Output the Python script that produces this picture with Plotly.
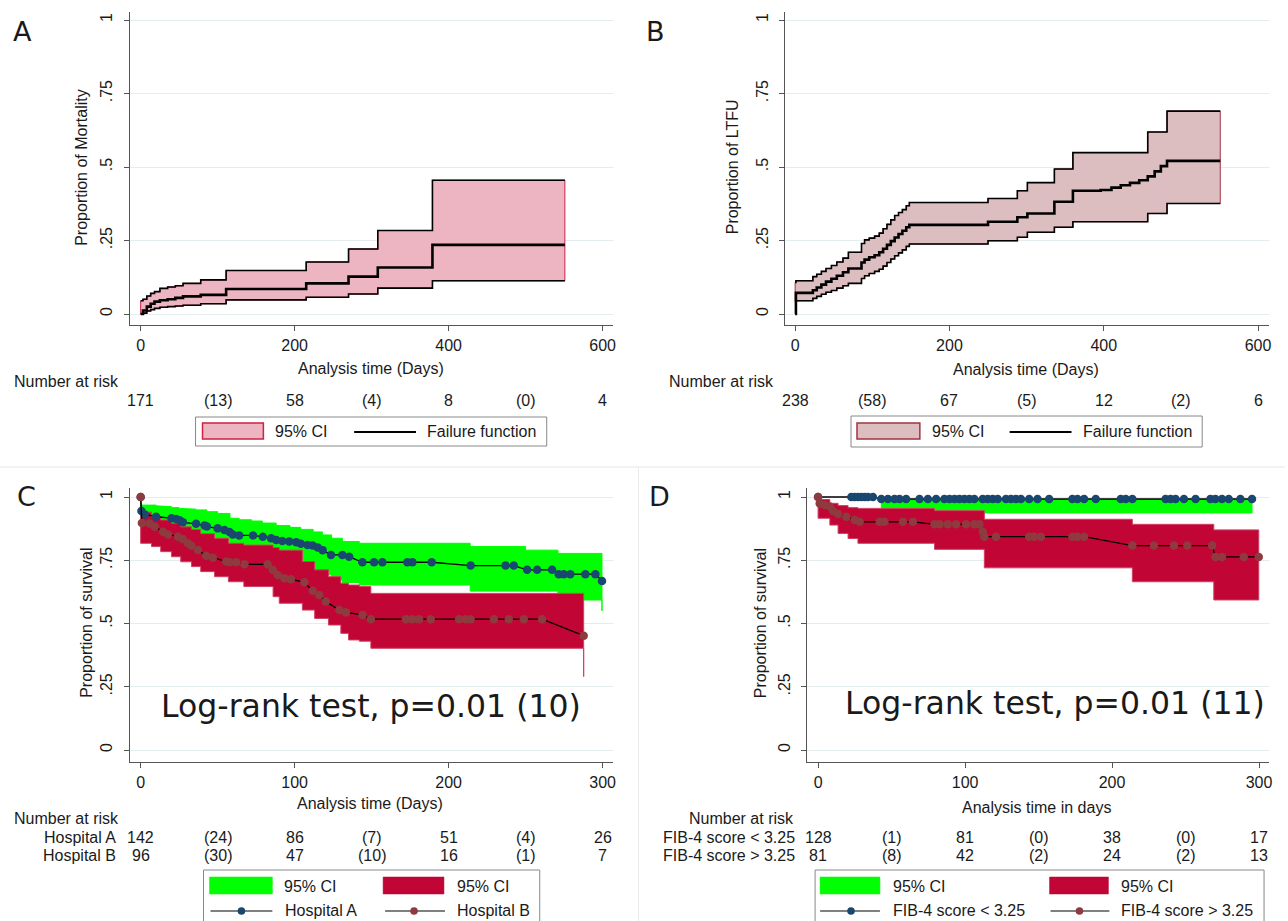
import plotly.graph_objects as go

# ---------------- DATA ----------------
# Panel A: mortality failure function (days, proportion)
A_t = [0, 3, 8, 13, 18, 25, 35, 45, 55, 78, 111, 215, 270, 308, 379, 551]
A_fail = [0, 0.012, 0.025, 0.035, 0.042, 0.047, 0.05, 0.055, 0.06, 0.065, 0.085, 0.104, 0.127, 0.158, 0.235, 0.235]
A_upper = [0.045, 0.05, 0.061, 0.07, 0.076, 0.087, 0.092, 0.096, 0.104, 0.116, 0.148, 0.177, 0.221, 0.284, 0.455, 0.455]
A_lower = [0, 0.003, 0.01, 0.015, 0.019, 0.023, 0.025, 0.027, 0.03, 0.035, 0.048, 0.057, 0.068, 0.088, 0.113, 0.113]
A_risk = ["171", "(13)", "58", "(4)", "8", "(0)", "4"]
A_risk_days = [0, 100, 200, 300, 400, 500, 600]

# Panel B: LTFU failure function
B_t = [0, 1, 23, 28, 34, 40, 47, 54, 62, 69, 86, 90, 96, 103, 109, 114, 119, 124, 129, 134,
       139, 144, 148, 250, 288, 301, 336, 360, 396, 410, 422, 434, 446, 457, 466, 474, 482, 551]
B_fail = [0, 0.072, 0.081, 0.09, 0.1, 0.11, 0.12, 0.13, 0.142, 0.155, 0.175, 0.185, 0.193, 0.2, 0.21,
          0.222, 0.235, 0.248, 0.26, 0.272, 0.283, 0.295, 0.303, 0.314, 0.329, 0.342, 0.382, 0.419,
          0.422, 0.43, 0.438, 0.446, 0.455, 0.468, 0.485, 0.503, 0.521, 0.521]
B_upper = [0.107, 0.113, 0.127, 0.135, 0.145, 0.155, 0.165, 0.177, 0.19, 0.21, 0.24, 0.252, 0.258, 0.265,
           0.275, 0.29, 0.305, 0.32, 0.335, 0.345, 0.355, 0.368, 0.379, 0.393, 0.419, 0.447, 0.493, 0.549,
           0.549, 0.549, 0.549, 0.549, 0.549, 0.619, 0.619, 0.619, 0.69, 0.69]
B_lower = [0.042, 0.045, 0.053, 0.06, 0.067, 0.074, 0.08, 0.088, 0.096, 0.104, 0.121, 0.13, 0.138, 0.145,
           0.152, 0.163, 0.175, 0.187, 0.198, 0.208, 0.218, 0.23, 0.238, 0.249, 0.261, 0.278, 0.295, 0.314,
           0.314, 0.314, 0.314, 0.314, 0.314, 0.342, 0.342, 0.342, 0.376, 0.376]
B_risk = ["238", "(58)", "67", "(5)", "12", "(2)", "6"]
B_risk_days = [0, 100, 200, 300, 400, 500, 600]

# Panel C: survival by hospital
C_A_t = [0, 0.5, 2.6, 10, 20, 23, 25.3, 27.4, 36, 41.5, 43, 50, 54.4, 57.7, 59.8, 64, 73, 79.3, 84.7, 88,
         92, 96.5, 101, 104, 108.4, 111.7, 115, 118.2, 123.6, 131, 135.4, 144, 151.6, 157, 173.2, 176.5,
         189, 214.3, 237, 242.3, 251, 257.5, 267.2, 271.5, 274.8, 279, 288.8, 295.3, 299.6]
C_A_s = [1.0, 0.945, 0.931, 0.922, 0.916, 0.913, 0.908, 0.90, 0.894, 0.887, 0.883, 0.876, 0.870, 0.862,
         0.852, 0.848, 0.848, 0.843, 0.837, 0.83, 0.826, 0.824, 0.821, 0.815, 0.81, 0.808, 0.80, 0.79,
         0.771, 0.771, 0.764, 0.742, 0.742, 0.742, 0.742, 0.742, 0.742, 0.729, 0.729, 0.729, 0.712,
         0.712, 0.712, 0.695, 0.695, 0.695, 0.695, 0.695, 0.668]
C_B_t = [0, 0.8, 5.8, 9.1, 14.5, 17.7, 24.2, 27.4, 30.7, 32.8, 37.2, 42.5, 46.9, 55.5, 57.7, 62, 67.4,
         82.5, 85.8, 89, 93.3, 97.6, 106.3, 111.7, 116, 120.3, 129, 133.3, 144.1, 149.5, 172.2, 176.5,
         180.8, 188.4, 206.8, 211.1, 214.3, 229.4, 239.1, 248.8, 260.7, 287.7]
C_B_s = [1.0, 0.897, 0.895, 0.882, 0.863, 0.852, 0.843, 0.834, 0.817, 0.808, 0.791, 0.768, 0.760, 0.745,
         0.742, 0.742, 0.734, 0.734, 0.712, 0.692, 0.679, 0.675, 0.663, 0.629, 0.613, 0.587, 0.553, 0.544,
         0.534, 0.517, 0.517, 0.517, 0.517, 0.517, 0.517, 0.517, 0.517, 0.517, 0.517, 0.517, 0.517, 0.452]
C_A_ci_t = [0, 10, 15, 20, 25, 30, 36, 43, 50, 58, 64, 72, 79, 88, 97, 104, 112, 118, 124, 131, 142, 214,
            250, 271, 299.6]
C_A_ci_up = [0.968, 0.965, 0.962, 0.958, 0.955, 0.952, 0.949, 0.942, 0.935, 0.916, 0.91, 0.905, 0.897,
             0.887, 0.88, 0.872, 0.862, 0.85, 0.837, 0.824, 0.817, 0.804, 0.79, 0.777, 0.777]
C_A_ci_lo = [0.90, 0.88, 0.87, 0.86, 0.845, 0.835, 0.825, 0.815, 0.80, 0.785, 0.775, 0.768, 0.76, 0.745,
             0.735, 0.72, 0.705, 0.692, 0.672, 0.662, 0.652, 0.628, 0.628, 0.593, 0.55]
C_B_ci_t = [0, 7, 13, 20, 26, 33, 39, 48, 57, 67, 86, 90, 105, 113, 122, 130, 135, 142, 149.5, 287.7]
C_B_ci_up = [0.94, 0.922, 0.909, 0.896, 0.882, 0.872, 0.855, 0.837, 0.817, 0.81, 0.80, 0.79, 0.745, 0.712,
             0.685, 0.659, 0.652, 0.646, 0.619, 0.619]
C_B_ci_lo = [0.817, 0.804, 0.784, 0.764, 0.744, 0.725, 0.705, 0.685, 0.665, 0.646, 0.606, 0.58, 0.553,
             0.52, 0.494, 0.461, 0.435, 0.43, 0.402, 0.29]
C_rowA = ["142", "(24)", "86", "(7)", "51", "(4)", "26"]
C_rowB = ["96", "(30)", "47", "(10)", "16", "(1)", "7"]
C_risk_days = [0, 50, 100, 150, 200, 250, 300]

# Panel D: survival by FIB-4 score
D_L_t = [0, 22.6, 24.9, 27.1, 29.4, 31.7, 33.9, 37.3, 43, 47.5, 52, 55.4, 59.9, 69, 74.7, 80.3, 85.9, 89.4,
         92.8, 96.1, 99.5, 102.9, 106.3, 112, 115.4, 118.8, 122.2, 127.8, 131.2, 134.6, 138, 143.6, 149.3,
         157.2, 173, 176.5, 181, 188.9, 205.9, 209.3, 213.8, 236.4, 239.8, 243.2, 248.9, 256.8, 266.9,
         270.3, 274.8, 279.4, 287.3, 295.2]
D_L_s = [1.0, 1.0, 1.0, 1.0, 1.0, 1.0, 1.0, 1.0, 0.992, 0.992, 0.992, 0.992, 0.992, 0.992, 0.992, 0.992,
         0.992, 0.992, 0.992, 0.992, 0.992, 0.992, 0.992, 0.992, 0.992, 0.992, 0.992, 0.992, 0.992, 0.992,
         0.992, 0.992, 0.992, 0.992, 0.992, 0.992, 0.992, 0.992, 0.992, 0.992, 0.992, 0.992, 0.992, 0.992,
         0.992, 0.992, 0.992, 0.992, 0.992, 0.992, 0.992, 0.992]
D_H_t = [0, 1.1, 4.5, 8, 10.2, 13.6, 19.2, 24.9, 28.3, 41.9, 45.2, 57.7, 64.5, 79.2, 82.6, 88.2, 93.9,
         100.7, 106.3, 109.7, 112, 113.1, 121, 143.6, 147, 151.6, 173, 176.5, 181, 213.8, 228.5, 242.1,
         251.2, 268.1, 270.3, 274.8, 289.6, 299.8]
D_H_s = [1.0, 0.974, 0.968, 0.962, 0.945, 0.933, 0.922, 0.909, 0.902, 0.902, 0.902, 0.902, 0.902, 0.892,
         0.892, 0.892, 0.892, 0.892, 0.892, 0.892, 0.863, 0.843, 0.843, 0.843, 0.843, 0.843, 0.843, 0.843,
         0.843, 0.808, 0.808, 0.808, 0.808, 0.808, 0.763, 0.763, 0.763, 0.763]
D_L_ci_t = [43, 295.2]
D_L_ci_up = [0.99, 0.99]
D_L_ci_lo = [0.937, 0.937]
D_H_ci_t = [0, 8, 13.6, 20.4, 27.1, 79.2, 113.1, 213.8, 269.2, 299.8]
D_H_ci_up = [0.99, 0.975, 0.966, 0.958, 0.955, 0.946, 0.912, 0.892, 0.87, 0.87]
D_H_ci_lo = [0.916, 0.889, 0.856, 0.836, 0.817, 0.793, 0.72, 0.665, 0.593, 0.593]
D_rowL = ["128", "(1)", "81", "(0)", "38", "(0)", "17"]
D_rowH = ["81", "(8)", "42", "(2)", "24", "(2)", "13"]
D_risk_days = [0, 50, 100, 150, 200, 250, 300]

y_ticks = [0, 0.25, 0.5, 0.75, 1]
y_ticktext = ["0", ".25", ".5", ".75", "1"]

# ---------------- STYLE / LAYOUT CONSTANTS ----------------
W, H = 1288, 921
ARIAL = "Liberation Sans, Arial, sans-serif"
DEJAVU = "DejaVu Sans, Verdana, sans-serif"
TXT = "#1a1a1a"
AXC = "#555555"
GRID = "#E3ECEE"
PINK_A, PINK_A_EDGE = "#EDB5C2", "#CC2244"
PINK_B, PINK_B_EDGE = "#DCBEC1", "#A33340"
GREEN = "#00FF00"
CRIMSON = "#C10534"
BLUE_M = "#1A476F"
RED_M = "#8E3B3F"
FS = 16


def px(x):
    return x / W


def py(y):
    return 1 - y / H


# pixel geometry of each panel
PAN = {
    "A": dict(n="", left=130, right=614, top=12, bottom=325, x0=141, x1=604, xv=600, y0=314, y1=20),
    "B": dict(n="2", left=787, right=1272, top=12, bottom=325, x0=797, x1=1261, xv=600, y0=314, y1=20),
    "C": dict(n="3", left=130, right=614, top=488, bottom=762, x0=141, x1=604, xv=300, y0=750, y1=497),
    "D": dict(n="4", left=809, right=1272, top=488, bottom=762, x0=820, x1=1262, xv=300, y0=750, y1=497),
}


def step_xy(t, v):
    xs, ys = [t[0]], [v[0]]
    for i in range(1, len(t)):
        xs += [t[i], t[i]]
        ys += [v[i - 1], v[i]]
    return xs, ys


def band(t, up, lo, fill, edge, ax, lw=1):
    xu, yu = step_xy(t, up)
    xl, yl = step_xy(t, lo)
    return go.Scatter(x=xu + xl[::-1] + [xu[0]], y=yu + yl[::-1] + [yu[0]], mode="lines",
                      fill="toself", fillcolor=fill, line=dict(color=edge, width=lw),
                      xaxis="x" + ax, yaxis="y" + ax, showlegend=False, hoverinfo="skip")


def sline(t, v, ax, width):
    return go.Scatter(x=t, y=v, mode="lines", line=dict(color="black", width=width, shape="hv"),
                      xaxis="x" + ax, yaxis="y" + ax, showlegend=False)


def kmline(t, v, ax, mcolor):
    return go.Scatter(x=t, y=v, mode="lines+markers", line=dict(color="black", width=1.3),
                      marker=dict(color=mcolor, size=8.5, line=dict(width=0)),
                      xaxis="x" + ax, yaxis="y" + ax, showlegend=False)


fig = go.Figure()

# Panel A
fig.add_trace(band(A_t, A_upper, A_lower, PINK_A, PINK_A_EDGE, ""))
fig.add_trace(sline(A_t, A_upper, "", 1.6))
fig.add_trace(sline(A_t, A_lower, "", 1.6))
fig.add_trace(sline(A_t, A_fail, "", 2.6))
# Panel B
fig.add_trace(band(B_t, B_upper, B_lower, PINK_B, PINK_B_EDGE, "2"))
fig.add_trace(sline(B_t, B_upper, "2", 1.6))
fig.add_trace(sline(B_t, B_lower, "2", 1.6))
fig.add_trace(sline(B_t, B_fail, "2", 2.6))
# Panel C
fig.add_trace(band(C_A_ci_t, C_A_ci_up, C_A_ci_lo, GREEN, GREEN, "3"))
fig.add_trace(band(C_B_ci_t, C_B_ci_up, C_B_ci_lo, CRIMSON, "#D04060", "3"))
fig.add_trace(kmline(C_A_t, C_A_s, "3", BLUE_M))
fig.add_trace(kmline(C_B_t, C_B_s, "3", RED_M))
# Panel D
fig.add_trace(band(D_L_ci_t, D_L_ci_up, D_L_ci_lo, GREEN, GREEN, "4"))
fig.add_trace(band(D_H_ci_t, D_H_ci_up, D_H_ci_lo, CRIMSON, "#D04060", "4"))
fig.add_trace(kmline(D_L_t, D_L_s, "4", BLUE_M))
fig.add_trace(kmline(D_H_t, D_H_s, "4", RED_M))

layout = dict(width=W, height=H, margin=dict(l=0, r=0, t=0, b=0), paper_bgcolor="white",
              plot_bgcolor="white", showlegend=False)

for key, p in PAN.items():
    xs = (p["x1"] - p["x0"]) / p["xv"]
    ys = (p["y0"] - p["y1"])
    xr = [(p["left"] - p["x0"]) / xs, (p["right"] - p["x0"]) / xs]
    yr = [(p["y0"] - p["bottom"]) / ys, (p["y0"] - p["top"]) / ys]
    step = 100 if p["xv"] == 300 else 200
    layout["xaxis" + p["n"]] = dict(
        domain=[px(p["left"]), px(p["right"])], range=xr, anchor="y" + p["n"],
        showline=True, linecolor=AXC, linewidth=1, ticks="outside", ticklen=5, tickcolor=AXC,
        tickvals=list(range(0, p["xv"] + 1, step)), showgrid=False, zeroline=False,
        tickfont=dict(family=ARIAL, size=FS, color=TXT), ticklabelstandoff=1, fixedrange=True)
    layout["yaxis" + p["n"]] = dict(
        domain=[py(p["bottom"]), py(p["top"])], range=yr, anchor="x" + p["n"],
        showline=True, linecolor=AXC, linewidth=1, ticks="outside", ticklen=5, tickcolor=AXC,
        tickvals=y_ticks, ticktext=y_ticktext, tickangle=-90, showgrid=True, gridcolor=GRID,
        gridwidth=1, zeroline=False, tickfont=dict(family=ARIAL, size=FS, color=TXT),
        ticklabelstandoff=5, fixedrange=True)

ann = []


def txt(text, x, y, xanchor="center", size=FS, family=ARIAL, angle=0, xref="paper"):
    ann.append(dict(text=text, x=px(x) if xref == "paper" else x, y=py(y), xref=xref, yref="paper",
                    xanchor=xanchor, yanchor="middle", showarrow=False, textangle=angle,
                    font=dict(family=family, size=size, color=TXT)))


# panel letters
txt("A", 23, 31, size=27, family=DEJAVU)
txt("B", 657, 31, size=27, family=DEJAVU)
txt("C", 27, 496, size=27, family=DEJAVU)
txt("D", 661, 496, size=27, family=DEJAVU)

# axis titles
txt("Analysis time (Days)", 372, 369)
txt("Proportion of Mortality", 82, 167, angle=-90)
txt("Analysis time (Days)", 1028, 370)
txt("Proportion of LTFU", 735, 167, angle=-90)
txt("Analysis time (Days)", 371, 803)
txt("Proportion of survival", 86, 623, angle=-90)
txt("Analysis time in days", 1039, 807)
txt("Proportion of survival", 762, 623, angle=-90)

# log-rank texts
txt("Log-rank test, p=0.01 (10)", 372, 706, size=31.5, family=DEJAVU)
txt("Log-rank test, p=0.01 (11)", 1057, 703, size=31.5, family=DEJAVU)

# number at risk tables
txt("Number at risk", 12, 382, xanchor="left")
for d, s in zip(A_risk_days, A_risk):
    txt(s, d, 400, xref="x")
txt("Number at risk", 669, 382, xanchor="left")
for d, s in zip(B_risk_days, B_risk):
    txt(s, d, 400, xref="x2")
txt("Number at risk", 12, 818, xanchor="left")
txt("Hospital A", 118, 837, xanchor="right")
txt("Hospital B", 118, 855, xanchor="right")
for d, a, b in zip(C_risk_days, C_rowA, C_rowB):
    txt(a, d, 837, xref="x3")
    txt(b, d, 855, xref="x3")
txt("Number at risk", 798, 818, xanchor="right")
txt("FIB-4 score < 3.25", 799, 837, xanchor="right")
txt("FIB-4 score > 3.25", 799, 855, xanchor="right")
for d, a, b in zip(D_risk_days, D_rowL, D_rowH):
    txt(a, d, 837, xref="x4")
    txt(b, d, 855, xref="x4")

shapes = []


def rect(x0, y0, x1, y1, fill="rgba(0,0,0,0)", edge="#888888", lw=1):
    shapes.append(dict(type="rect", xref="paper", yref="paper", x0=px(x0), x1=px(x1), y0=py(y1),
                       y1=py(y0), fillcolor=fill, line=dict(color=edge, width=lw), layer="above"))


def seg(x0, y0, x1, y1, color="black", lw=1.5):
    shapes.append(dict(type="line", xref="paper", yref="paper", x0=px(x0), x1=px(x1), y0=py(y0),
                       y1=py(y1), line=dict(color=color, width=lw), layer="above"))


def dot(cx, cy, color, r=3.8):
    shapes.append(dict(type="circle", xref="paper", yref="paper", x0=px(cx - r), x1=px(cx + r),
                       y0=py(cy + r), y1=py(cy - r), fillcolor=color, line=dict(width=0),
                       layer="above"))


# separators
seg(0, 467, W, 467, color="#E6E6E6", lw=1)
seg(640, 467, 640, H, color="#EBEBEB", lw=1)

# legend A
rect(196, 417, 548, 446)
rect(203, 423, 264, 439, fill=PINK_A, edge=PINK_A_EDGE, lw=1.5)
txt("95% CI", 274, 431, xanchor="left")
seg(355, 432, 417, 432, lw=2.2)
txt("Failure function", 426, 431, xanchor="left")
# legend B
rect(853, 416, 1205, 447)
rect(859, 423, 922, 439, fill=PINK_B, edge=PINK_B_EDGE, lw=1.5)
txt("95% CI", 932, 431, xanchor="left")
seg(1012, 432, 1074, 432, lw=2.2)
txt("Failure function", 1084, 431, xanchor="left")
# legend C
rect(204, 870, 541, 935)
rect(210, 877, 273, 894, fill=GREEN, edge=GREEN, lw=0.5)
txt("95% CI", 283, 886, xanchor="left")
rect(384, 877, 445, 894, fill=CRIMSON, edge=CRIMSON, lw=0.5)
txt("95% CI", 456, 886, xanchor="left")
seg(211, 911, 273, 911, lw=1.2)
dot(242, 911, BLUE_M)
txt("Hospital A", 284, 910, xanchor="left")
seg(386, 911, 446, 911, lw=1.2)
dot(415, 911, RED_M)
txt("Hospital B", 456, 910, xanchor="left")
# legend D
rect(817, 870, 1267, 935)
rect(822, 877, 882, 894, fill=GREEN, edge=GREEN, lw=0.5)
txt("95% CI", 893, 886, xanchor="left")
rect(1052, 877, 1111, 894, fill=CRIMSON, edge=CRIMSON, lw=0.5)
txt("95% CI", 1122, 886, xanchor="left")
seg(822, 911, 882, 911, lw=1.2)
dot(853, 911, BLUE_M)
txt("FIB-4 score < 3.25", 893, 910, xanchor="left")
seg(1053, 911, 1112, 911, lw=1.2)
dot(1082, 911, RED_M)
txt("FIB-4 score > 3.25", 1122, 910, xanchor="left")

layout["annotations"] = ann
layout["shapes"] = shapes
fig.update_layout(**layout)
fig.write_html("out.html", config={"displayModeBar": False, "staticPlot": True},
               post_script="document.body.style.margin='0';document.body.style.padding='0';"
                           "document.documentElement.style.overflow='hidden';")
